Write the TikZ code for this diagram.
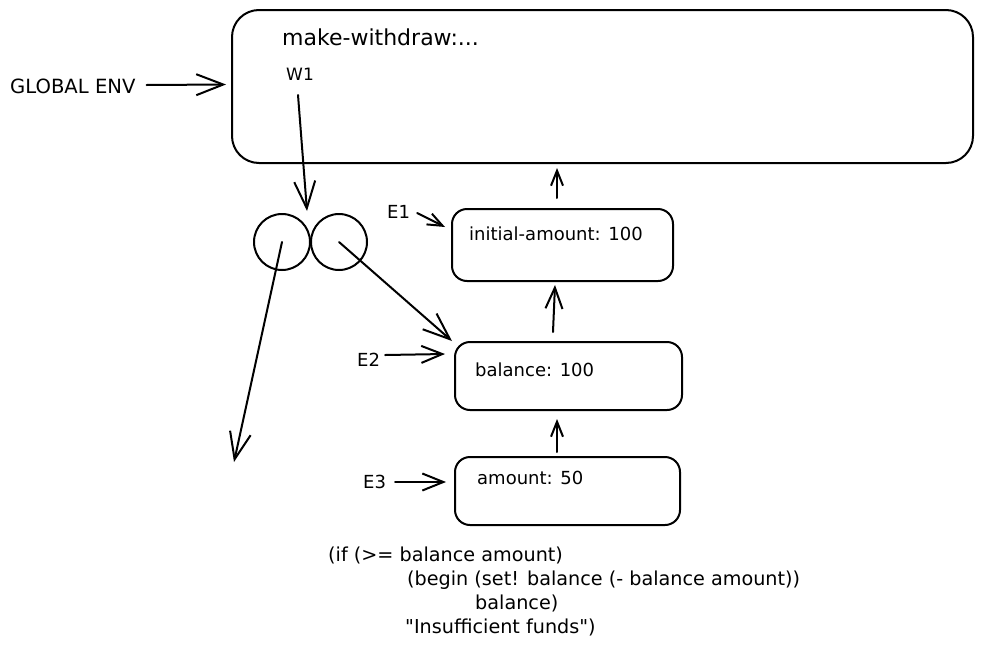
\documentclass[tikz,border=0pt]{standalone}
\usepackage{fontspec}
\setmainfont{DejaVu Sans}[Ligatures=TeXOff]
\usetikzlibrary{arrows.meta,calc}
\begin{document}
\begin{tikzpicture}[x=1pt,y=-1pt,
  stroke/.style={line width=2pt, line cap=round, line join=round},
  envbox/.style={stroke, draw, rectangle, rounded corners=15pt, inner sep=0pt},
  ring/.style={stroke, draw, circle, minimum size=56pt, inner sep=0pt},
  arrL/.style={stroke, -{Straight Barb[length=27pt,width=21pt,line width=2pt]}},
  arrM/.style={stroke, -{Straight Barb[length=21pt,width=17pt,line width=2pt]}},
  arrS/.style={stroke, -{Straight Barb[length=15pt,width=12pt,line width=2pt]}},
  lbl/.style={inner sep=0pt, anchor=west, font=\fontsize{18}{22}\selectfont},
  codeline/.style={inner sep=0pt, anchor=west, font=\fontsize{19.2}{23}\selectfont},
]
\useasboundingbox (0,0) rectangle (983,651);

% environments
\node[envbox, rounded corners=27pt, minimum width=741pt, minimum height=153pt] (glob) at (602.5,86.5) {};
\node[envbox, minimum width=221pt, minimum height=72pt] (e1) at (562.5,245) {};
\node[envbox, minimum width=227pt, minimum height=68pt] (e2) at (568.5,376) {};
\node[envbox, minimum width=225pt, minimum height=68pt] (e3) at (567.5,491) {};

% procedure object
\node[ring] (c1) at (282,242) {};
\node[ring] (c2) at (339,242) {};

% texts
\node[lbl, font=\fontsize{22}{26}\selectfont] (mw) at (282,37) {make-withdraw:...};
\node[lbl, font=\fontsize{17}{20}\selectfont] (w1) at (286,74) {W1};
\node[lbl, font=\fontsize{19.6}{23}\selectfont] (ge) at (10,86) {GLOBAL ENV};
\node[lbl] (e1l) at (387,212) {E1};
\node[lbl] (e2l) at (357,360) {E2};
\node[lbl] (e3l) at (363,482) {E3};
\node[lbl] (t1) at (469,234) {initial-amount: 100};
\node[lbl] (t2) at (475,370) {balance: 100};
\node[lbl] (t3) at (477,478) {amount: 50};

\node[codeline] (k1) at (328,555) {(if (>= balance amount)};
\node[codeline] (k2) at (407,580) {(begin (set! balance (- balance amount))};
\node[codeline] (k3) at (475,603) {balance)};
\node[codeline] (k4) at (405,627) {"Insufficient funds")};

% free ends
\coordinate (w1s) at (298,95);
\coordinate (w1tip) at (307,211);
\coordinate (c1tip) at (234,462);

% connectors
\draw[arrL] ($(ge.east)+(11,-1)$) -- ($(glob.west)+(-5,-2)$);
\draw[arrL] (w1s) -- (w1tip);
\draw[arrL] (c1.center) -- (c1tip);
\draw[arrL] (c2.center) -- ($(e2.north west)+(-2,0)$);
\draw[arrS] ($(e1l.east)+(7,1)$) -- ($(e1.west)+(-6,-18)$);
\draw[arrM] ($(e2l.east)+(5,-5)$) -- ($(e2.west)+(-9,-22)$);
\draw[arrM] ($(e3l.east)+(9,0)$) -- ($(e3.west)+(-8,-9)$);
\draw[arrS] ($(e3.north)+(-10.5,-4)$) -- ($(e2.south)+(-11.5,8)$);
\draw[arrM] ($(e2.north)+(-15.5,-9)$) -- ($(e1.south)+(-7.5,3)$);
\draw[arrS] ($(e1.north)+(-5.5,-10)$) -- ($(glob.south)+(-45.5,4)$);
\end{tikzpicture}
\end{document}
